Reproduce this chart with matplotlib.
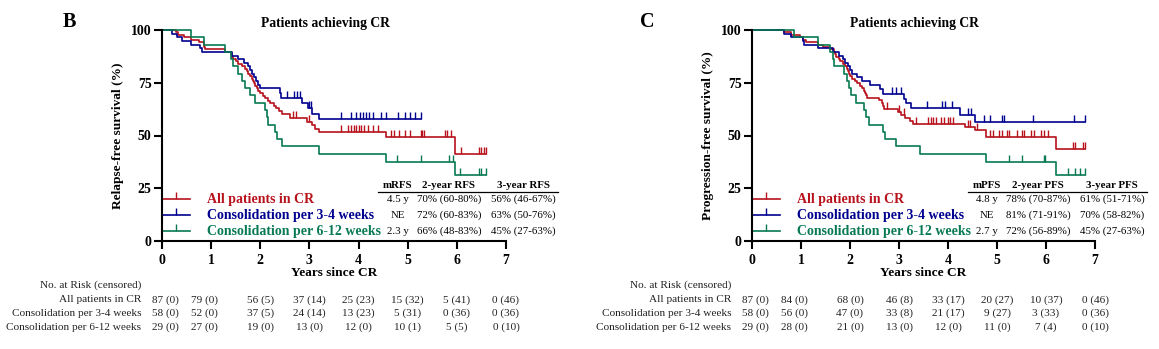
import numpy as np
import matplotlib.pyplot as plt
from matplotlib.transforms import blended_transform_factory

plt.rcParams['font.family'] = ['Liberation Serif', 'DejaVu Serif']

RED = '#B8121C'
BLUE = '#00008F'
GREEN = '#077A52'
colors = [RED, BLUE, GREEN]

groups = ['All patients in CR', 'Consolidation per 3-4 weeks', 'Consolidation per 6-12 weeks']
years = [0, 1, 2, 3, 4, 5, 6, 7]
risk_x = [0.07, 0.86, 2, 3, 4, 5, 6, 7]

# ---- panel B: relapse-free survival (event times / survival after the step) ----
rfs_all_t = [0.29, 0.33, 0.45, 0.6, 0.75, 0.85, 0.86, 0.87,
             1.28, 1.4, 1.42, 1.45, 1.5, 1.55, 1.62, 1.68, 1.72, 1.76, 1.8, 1.83, 1.85, 1.88, 1.9, 1.93, 1.96, 1.99,
             2.05, 2.1, 2.15, 2.2, 2.27, 2.32, 2.38, 2.45, 2.6, 2.96,
             3.05, 3.12, 3.2, 4.55, 5.97]
rfs_all_s = [98.9, 97.7, 96.6, 95.4, 94.3, 93.1, 92.0, 90.8,
             89.7, 88.5, 87.4, 86.2, 85.1, 83.9, 82.8, 81.6, 80.5, 79.3, 78.2, 77.0, 75.9, 74.7, 73.6, 72.4, 71.3, 70.1,
             68.9, 67.7, 66.5, 65.3, 64.0, 62.8, 61.5, 60.0, 58.2, 56.6,
             55.0, 53.3, 51.6, 49.2, 41.0]
rfs_all_c = [2.66, 2.72, 3.0, 3.65, 3.78, 3.85, 3.9, 3.95, 4.0, 4.05, 4.12, 4.2, 4.3, 4.4,
             4.65, 4.72, 4.82, 4.95, 5.05, 5.27, 5.3, 5.33, 5.75, 5.8, 5.88,
             6.08, 6.45, 6.5, 6.55, 6.6]

rfs_34_t = [0.2, 0.3, 0.4, 0.6, 0.78, 0.82,
            1.42, 1.55, 1.66, 1.74, 1.8, 1.84, 1.88, 1.92, 1.96, 1.99,
            2.4, 2.42, 2.85, 2.97, 3.05, 3.2]
rfs_34_s = [98.3, 96.6, 94.8, 93.1, 91.4, 89.7,
            87.9, 86.2, 84.5, 82.8, 81.0, 79.3, 77.6, 75.9, 74.1, 72.4,
            70.1, 67.8, 65.5, 63.2, 60.4, 57.6]
rfs_34_c = [2.55, 2.68, 2.75, 2.8, 3.0, 3.03, 3.65, 3.85, 3.95, 4.02, 4.08, 4.15, 4.22, 4.3,
            4.45, 4.55, 4.8, 4.95, 5.05, 5.15, 5.28]

rfs_612_t = [0.6, 0.86, 1.28, 1.4, 1.45, 1.55, 1.62, 1.68, 1.8, 1.9,
             2.1, 2.13, 2.15, 2.3, 2.35, 2.45, 3.2, 4.55, 5.97]
rfs_612_s = [96.6, 93.1, 89.7, 86.2, 82.8, 79.3, 75.9, 72.4, 69.0, 65.5,
             62.1, 58.6, 55.2, 51.7, 48.3, 44.8, 41.4, 37.6, 31.3]
rfs_612_c = [4.78, 5.27, 5.85, 5.93, 6.07, 6.45, 6.5, 6.6]

# ---- panel C: progression-free survival ----
pfs_all_t = [0.65, 0.8, 0.98,
             1.05, 1.1, 1.35, 1.45, 1.6, 1.68, 1.7, 1.72, 1.78, 1.8, 1.85, 1.9, 1.93, 1.96, 1.98, 1.99,
             2.05, 2.1, 2.15, 2.2, 2.25, 2.28, 2.3, 2.33, 2.35, 2.6, 2.65, 2.68, 2.7, 2.97,
             3.05, 3.13, 3.22, 3.28, 4.35, 4.55, 4.78, 6.2]
pfs_all_s = [98.9, 97.7, 96.6,
             95.4, 94.3, 93.1, 92.0, 90.8, 89.7, 88.5, 87.4, 86.2, 85.1, 83.9, 82.8, 81.6, 80.5, 79.3, 78.2,
             77.0, 75.9, 74.7, 73.6, 72.4, 71.3, 70.1, 69.0, 67.8, 66.6, 65.3, 64.0, 62.6, 61.2,
             59.8, 58.3, 56.8, 55.3, 54.0, 52.5, 49.1, 43.7]
pfs_all_c = [2.75, 3.0, 3.1, 3.35, 3.6, 3.65, 3.7, 3.75, 3.85, 3.92, 4.0, 4.05, 4.1, 4.4, 4.45,
             4.6, 4.85, 4.92, 5.05, 5.1, 5.2, 5.25, 5.4, 5.5, 5.55, 5.7, 5.75, 5.9, 5.95, 6.05,
             6.55, 6.6, 6.75, 6.8]

pfs_34_t = [0.65, 0.8, 1.05, 1.07, 1.35, 1.65, 1.78, 1.85, 1.9, 1.95, 1.99,
            2.05, 2.15, 2.25, 2.4, 2.62, 2.68, 3.1, 3.15, 3.25, 4.25, 4.55]
pfs_34_s = [98.3, 96.6, 94.8, 93.1, 91.4, 89.7, 87.9, 86.2, 84.5, 82.8, 81.0,
            79.3, 77.6, 75.8, 74.0, 71.9, 69.8, 67.5, 65.2, 62.9, 59.8, 56.2]
pfs_34_c = [2.85, 2.94, 3.05, 3.58, 3.88, 3.93, 4.08, 4.4, 4.46, 4.74, 4.85, 5.1, 5.15, 5.73, 6.57, 6.8]

pfs_612_t = [0.85, 1.35, 1.6, 1.65, 1.68, 1.88, 1.93, 1.98, 2.02, 2.12, 2.28, 2.33, 2.38,
             2.68, 2.72, 2.94, 3.43, 4.78, 6.2]
pfs_612_s = [96.6, 93.1, 89.7, 86.2, 82.8, 79.3, 75.9, 72.4, 69.0, 65.5, 62.1, 58.6, 55.2,
             51.7, 48.3, 44.8, 41.4, 37.6, 31.3]
pfs_612_c = [5.25, 5.5, 5.95, 5.98, 6.45, 6.6, 6.7, 6.8]

# summary tables
rfs_median = ['4.5 y', 'NE', '2.3 y']
rfs_2y = ['70% (60-80%)', '72% (60-83%)', '66% (48-83%)']
rfs_3y = ['56% (46-67%)', '63% (50-76%)', '45% (27-63%)']
pfs_median = ['4.8 y', 'NE', '2.7 y']
pfs_2y = ['78% (70-87%)', '81% (71-91%)', '72% (56-89%)']
pfs_3y = ['61% (51-71%)', '70% (58-82%)', '45% (27-63%)']

# numbers at risk (censored)
rfs_risk = [[87, 79, 56, 37, 25, 15, 5, 0], [58, 52, 37, 24, 13, 5, 0, 0], [29, 27, 19, 13, 12, 10, 5, 0]]
rfs_cens = [[0, 0, 5, 14, 23, 32, 41, 46], [0, 0, 5, 14, 23, 31, 36, 36], [0, 0, 0, 0, 0, 1, 5, 10]]
pfs_risk = [[87, 84, 68, 46, 33, 20, 10, 0], [58, 56, 47, 33, 21, 9, 3, 0], [29, 28, 21, 13, 12, 11, 7, 0]]
pfs_cens = [[0, 0, 0, 8, 17, 27, 37, 46], [0, 0, 0, 8, 17, 27, 33, 36], [0, 0, 0, 0, 0, 0, 4, 10]]


def draw_panel(fig, ax, letter, letter_x, ylabel, curves, tag, med, y2, y3, risk, cens):
    for (t, s, c), col in zip(curves, colors):
        x = np.array([0] + t)
        y = np.array([100] + s)
        end = max(max(t), max(c))
        ax.step(np.append(x, end), np.append(y, y[-1]), where='post', color=col, lw=1.2, clip_on=False)
        c = np.array(c)
        cy = y[np.searchsorted(x, c, side='right') - 1]
        ax.plot(c, cy, ls='none', marker=2, ms=5, mew=1.0, color=col, clip_on=False)

    ax.set_xlim(0, 7)
    ax.set_ylim(0, 100)
    ax.set_xticks(years)
    ax.set_yticks([0, 25, 50, 75, 100])
    for side in ['top', 'right']:
        ax.spines[side].set_visible(False)
    for side in ['left', 'bottom']:
        ax.spines[side].set_linewidth(1.5)
    ax.tick_params(width=1.5, length=6, labelsize=10)
    ax.tick_params(axis='x', pad=3)
    ax.tick_params(axis='y', pad=1.5)
    for lab in ax.get_xticklabels() + ax.get_yticklabels():
        lab.set_fontweight('bold')

    ax.set_ylabel(ylabel, fontsize=9.6, fontweight='bold', va='center')
    ax.yaxis.set_label_coords(-44 / 344, 0.5)
    ax.set_xlabel('Years since CR', fontsize=9.6, fontweight='bold')
    ax.xaxis.set_label_coords(0.5, -0.125)
    ax.text(0.475, 1.03, 'Patients achieving CR', transform=ax.transAxes, ha='center', va='center',
            fontsize=9.8, fontweight='bold')
    fig.text(letter_x, 1 - 22 / 349, letter, ha='center', va='center', fontsize=14.5, fontweight='bold')

    # legend + summary table
    rows_y = [19.9, 12.3, 4.7]
    for g, col, ry, m, a, b in zip(groups, colors, rows_y, med, y2, y3):
        ax.plot([0, 0.57], [ry, ry], color=col, lw=1.2, clip_on=False)
        ax.plot([0.285], [ry], marker=2, ms=5, mew=1.0, color=col, clip_on=False)
        ax.text(0.916, ry, g, color=col, fontsize=10, fontweight='bold', va='center', ha='left')
        ax.text(4.8, ry, m, fontsize=7.8, va='center', ha='center')
        ax.text(5.84, ry, a, fontsize=7.8, va='center', ha='center')
        ax.text(7.35, ry, b, fontsize=7.8, va='center', ha='center')
    ax.plot([4.4, 8.06], [23.4, 23.4], color='black', lw=0.9, clip_on=False)
    for hx, h in zip([4.8, 5.84, 7.35], ['m' + tag, '2-year ' + tag, '3-year ' + tag]):
        ax.text(hx, 26.3, h, fontsize=7.8, fontweight='bold', va='center', ha='center')

    # numbers at risk
    tr = blended_transform_factory(ax.transData, fig.transFigure)
    ax.text(-0.42, 1 - 285 / 349, 'No. at Risk (censored)', transform=tr, ha='right', va='center',
            fontsize=8.1, color='#222222')
    for g, r, cc, ypx in zip(groups, risk, cens, [300, 313, 327]):
        ax.text(-0.42, 1 - ypx / 349, g, transform=tr, ha='right', va='center', fontsize=8.1, color='#222222')
        for xx, n, k in zip(risk_x, r, cc):
            ax.text(xx, 1 - ypx / 349, f'{n} ({k})', transform=tr, ha='center', va='center',
                    fontsize=8.1, color='#222222')


fig = plt.figure(figsize=(11.59, 3.49), dpi=100)
axB = fig.add_axes([162 / 1159, 108 / 349, 344 / 1159, 211 / 349])
axC = fig.add_axes([752 / 1159, 108 / 349, 343 / 1159, 211 / 349])

draw_panel(fig, axB, 'B', 69 / 1159, 'Relapse-free survival (%)',
           [(rfs_all_t, rfs_all_s, rfs_all_c), (rfs_34_t, rfs_34_s, rfs_34_c), (rfs_612_t, rfs_612_s, rfs_612_c)],
           'RFS', rfs_median, rfs_2y, rfs_3y, rfs_risk, rfs_cens)
draw_panel(fig, axC, 'C', 647 / 1159, 'Progression-free survival (%)',
           [(pfs_all_t, pfs_all_s, pfs_all_c), (pfs_34_t, pfs_34_s, pfs_34_c), (pfs_612_t, pfs_612_s, pfs_612_c)],
           'PFS', pfs_median, pfs_2y, pfs_3y, pfs_risk, pfs_cens)

fig.savefig('out.png', dpi=100)
